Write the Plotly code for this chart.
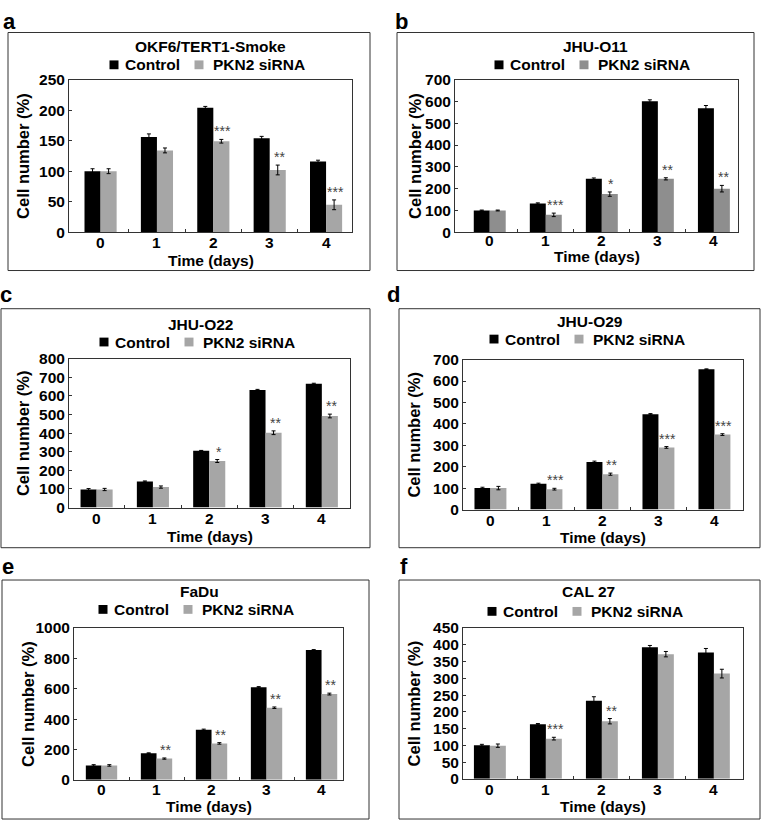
import plotly.graph_objects as go

# Data (cell number, % of day 0)
days = [0, 1, 2, 3, 4]
day_labels = ["0", "1", "2", "3", "4"]

a_ctrl = [100, 156, 204, 154, 116]
a_ctrl_err = [4, 5, 2, 3, 2]
a_sirna = [100, 134, 149, 102, 45]
a_sirna_err = [4, 4, 3, 8, 8]
a_stars = ["", "", "***", "**", "***"]

b_ctrl = [100, 132, 245, 600, 568]
b_ctrl_err = [2, 3, 4, 7, 13]
b_sirna = [100, 80, 175, 245, 200]
b_sirna_err = [2, 8, 10, 5, 15]
b_stars = ["", "***", "*", "**", "**"]

c_ctrl = [97, 140, 305, 632, 665]
c_ctrl_err = [5, 3, 2, 3, 3]
c_sirna = [97, 110, 250, 402, 492]
c_sirna_err = [6, 6, 8, 10, 10]
c_stars = ["", "", "*", "**", "**"]

d_ctrl = [100, 120, 222, 445, 655]
d_ctrl_err = [4, 3, 4, 3, 2]
d_sirna = [100, 95, 165, 290, 350]
d_sirna_err = [8, 4, 5, 4, 4]
d_stars = ["", "***", "**", "***", "***"]

e_ctrl = [95, 175, 330, 610, 855]
e_ctrl_err = [5, 3, 4, 4, 3]
e_sirna = [95, 140, 240, 475, 565]
e_sirna_err = [5, 4, 5, 5, 6]
e_stars = ["", "**", "**", "**", "**"]

f_ctrl = [100, 163, 233, 393, 377]
f_ctrl_err = [3, 2, 12, 5, 12]
f_sirna = [99, 120, 172, 372, 314]
f_sirna_err = [5, 4, 8, 8, 13]
f_stars = ["", "***", "**", "", ""]

W, H = 762, 828
FONT = "Liberation Sans"


def px(x):
    return x / W


def py(y):
    return 1 - y / H


def bold(size):
    return dict(family=FONT, size=size, weight="bold", color="black")


# panel settings: letter, cell line, data, y max, y step, grey, plot box, frame box, text positions
panels = [
    dict(letter="a", name="OKF6/TERT1-Smoke", ctrl=a_ctrl, ce=a_ctrl_err, si=a_sirna, se=a_sirna_err,
         stars=a_stars, ymax=250, dy=50, grey="#a6a6a6", xr=[-0.56, 4.46],
         box=(69, 352, 72, 228), frame=(8, 370, 24, 267), letter_xy=(9, 13),
         cx=210, ty=38, ly=57, ytx=23, xtk=238, xty=257),
    dict(letter="b", name="JHU-O11", ctrl=b_ctrl, ce=b_ctrl_err, si=b_sirna, se=b_sirna_err,
         stars=b_stars, ymax=700, dy=100, grey="#8e8e8e", xr=[-0.62, 4.43],
         box=(455, 738, 72, 228), frame=(397, 754, 24, 267), letter_xy=(402, 13),
         cx=595, ty=38, ly=57, ytx=415, xtk=236, xty=253),
    dict(letter="c", name="JHU-O22", ctrl=c_ctrl, ce=c_ctrl_err, si=c_sirna, se=c_sirna_err,
         stars=c_stars, ymax=800, dy=100, grey="#a6a6a6", xr=[-0.49, 4.5],
         box=(69, 350, 357, 509), frame=(1, 370, 306, 550), letter_xy=(6, 291),
         cx=200, ty=322, ly=340, ytx=23, xtk=520, xty=539),
    dict(letter="d", name="JHU-O29", ctrl=d_ctrl, ce=d_ctrl_err, si=d_sirna, se=d_sirna_err,
         stars=d_stars, ymax=700, dy=100, grey="#a6a6a6", xr=[-0.49, 4.51],
         box=(463, 743, 358, 511), frame=(399, 760, 306, 550), letter_xy=(393, 291),
         cx=590, ty=319, ly=337, ytx=414, xtk=522, xty=540),
    dict(letter="e", name="FaDu", ctrl=e_ctrl, ce=e_ctrl_err, si=e_sirna, se=e_sirna_err,
         stars=e_stars, ymax=1000, dy=200, grey="#a6a6a6", xr=[-0.5, 4.39],
         box=(74, 343, 632, 787), frame=(2, 369, 583, 827), letter_xy=(8, 569),
         cx=199, ty=595, ly=613, ytx=28, xtk=797, xty=814),
    dict(letter="f", name="CAL 27", ctrl=f_ctrl, ce=f_ctrl_err, si=f_sirna, se=f_sirna_err,
         stars=f_stars, ymax=450, dy=50, grey="#a6a6a6", xr=[-0.48, 4.52],
         box=(463, 743, 632, 786), frame=(399, 760, 583, 827), letter_xy=(404, 569),
         cx=588, ty=595, ly=615, ytx=414, xtk=797, xty=814),
]

fig = go.Figure()
layout = dict(
    width=W, height=H, margin=dict(l=0, r=0, t=0, b=0),
    paper_bgcolor="white", plot_bgcolor="white",
    showlegend=False, barmode="group", bargap=0.43, bargroupgap=0,
    font=dict(family=FONT, size=15, color="black"),
)
annotations = []
shapes = []

for i, p in enumerate(panels, start=1):
    xa = "x" if i == 1 else f"x{i}"
    ya = "y" if i == 1 else f"y{i}"
    x0, x1, y0, y1 = p["box"]

    fig.add_trace(go.Bar(
        x=days, y=p["ctrl"], xaxis=xa, yaxis=ya, marker=dict(color="black", line=dict(width=0)),
        error_y=dict(type="data", array=p["ce"], color="black", thickness=1, width=2),
    ))
    fig.add_trace(go.Bar(
        x=days, y=p["si"], xaxis=xa, yaxis=ya, marker=dict(color=p["grey"], line=dict(width=0)),
        error_y=dict(type="data", array=p["se"], color="black", thickness=1, width=2),
    ))

    layout["xaxis" if i == 1 else f"xaxis{i}"] = dict(
        domain=[px(x0), px(x1)], anchor=ya, range=p["xr"],
        tickmode="array", tickvals=days, ticks="", showticklabels=False,
        showline=True, mirror=True, linecolor="#333", linewidth=1,
        showgrid=False, zeroline=False, fixedrange=True,
        minor=dict(tickvals=[0.5, 1.5, 2.5, 3.5], ticks="inside", ticklen=3, tickcolor="#333"),
    )
    layout["yaxis" if i == 1 else f"yaxis{i}"] = dict(
        domain=[py(y1), py(y0)], anchor=xa, range=[0, p["ymax"]],
        tickmode="linear", tick0=0, dtick=p["dy"], ticks="inside", ticklen=3, tickcolor="#333",
        tickfont=bold(15.5),
        showline=True, mirror=True, linecolor="#333", linewidth=1,
        showgrid=False, zeroline=False, fixedrange=True,
    )

    # day labels under the x axis
    for d, lab in zip(days, day_labels):
        annotations.append(dict(x=d, y=py(p["xtk"]), xref=xa, yref="paper", text=lab,
                                showarrow=False, xanchor="center", yanchor="middle", font=bold(15.5)))

    # significance stars above the siRNA bars
    for d, s, v, e in zip(days, p["stars"], p["si"], p["se"]):
        if s:
            annotations.append(dict(
                x=d + 0.17, y=v + e, xref=xa, yref=ya, text=s, showarrow=False,
                yanchor="bottom", yshift=-2, font=dict(family=FONT, size=14, color="#444"),
            ))

    # frame around panel
    fx0, fx1, fy0, fy1 = p["frame"]
    shapes.append(dict(type="rect", xref="paper", yref="paper",
                       x0=px(fx0), x1=px(fx1), y0=py(fy1), y1=py(fy0),
                       line=dict(color="#333", width=1)))

    # panel letter
    lx, lyy = p["letter_xy"]
    annotations.append(dict(x=px(lx), y=py(lyy), xref="paper", yref="paper", text=p["letter"],
                            showarrow=False, xanchor="center", yanchor="middle", font=bold(22)))

    # cell line title
    annotations.append(dict(x=px(p["cx"]), y=py(p["ty"]), xref="paper", yref="paper", text=p["name"],
                            showarrow=False, xanchor="center", yanchor="middle", font=bold(15.5)))

    # legend row
    cx, ly = p["cx"], p["ly"]
    for sq, col in ((cx - 96, "black"), (cx - 11, p["grey"])):
        shapes.append(dict(type="rect", xref="paper", yref="paper",
                           x0=px(sq - 4.5), x1=px(sq + 4.5), y0=py(ly + 4.5), y1=py(ly - 4.5),
                           fillcolor=col, line=dict(width=0)))
    annotations.append(dict(x=px(cx - 87), y=py(ly), xref="paper", yref="paper", text="Control",
                            showarrow=False, xanchor="left", yanchor="middle", font=bold(15.5)))
    annotations.append(dict(x=px(cx + 1), y=py(ly), xref="paper", yref="paper", text="PKN2 siRNA",
                            showarrow=False, xanchor="left", yanchor="middle", font=bold(15.5)))

    # axis titles
    annotations.append(dict(x=px(p["ytx"]), y=py((y0 + y1) / 2), xref="paper", yref="paper",
                            text="Cell number (%)", textangle=-90, showarrow=False,
                            xanchor="center", yanchor="middle", font=bold(16.5)))
    annotations.append(dict(x=px((x0 + x1) / 2), y=py(p["xty"]), xref="paper", yref="paper",
                            text="Time (days)", showarrow=False, xanchor="center", yanchor="middle",
                            font=bold(15.5)))

layout["annotations"] = annotations
layout["shapes"] = shapes
fig.update_layout(**layout)

fig.write_html("out.html", config={"displayModeBar": False},
               post_script="document.body.style.margin='0px';")
